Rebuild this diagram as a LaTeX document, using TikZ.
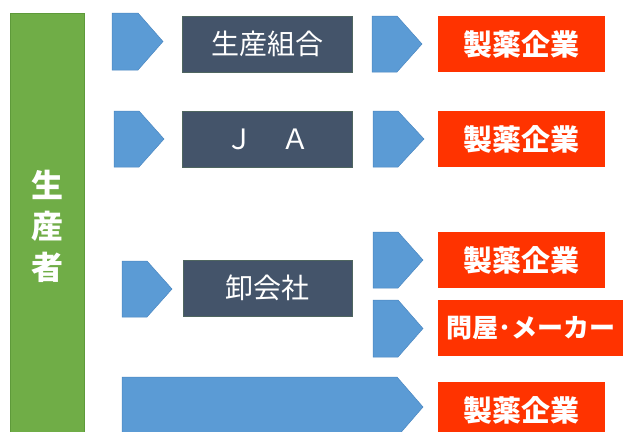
\documentclass[tikz,border=0pt]{standalone}
\usepackage{fontspec}
\newfontfamily\jp{Noto Sans CJK JP}
\definecolor{arrowblue}{HTML}{5B9BD5}
\definecolor{arrowedge}{HTML}{4A86C0}
\definecolor{slate}{HTML}{44546A}
\definecolor{slateedge}{HTML}{4F6660}
\definecolor{firm}{HTML}{FF3300}
\definecolor{grower}{HTML}{70AD47}
\definecolor{groweredge}{HTML}{5E9A3A}
\tikzset{
  chev/.style={fill=arrowblue,draw=arrowedge,line width=0.5pt},
  midbox/.style={fill=slate,draw=slateedge,line width=0.5pt},
  midtext/.style={text=white,font=\jp\fontsize{28}{32}\selectfont},
  redtext/.style={text=white,font=\jp\bfseries\fontsize{29}{33}\selectfont},
  growtext/.style={text=white,font=\jp\bfseries\fontsize{32}{36}\selectfont},
}
\newcommand{\homeplate}[5]{% x1 y1 x2 y2 xslant
  \path[chev] (#1,#2) -- (#5,#2) -- (#3,{(#2+#4)/2}) -- (#5,#4) -- (#1,#4) -- cycle;}
\begin{document}
\begin{tikzpicture}[x=1pt,y=-1pt]
\useasboundingbox (0,0) rectangle (623,431);
\clip (0,0) rectangle (623,431);
% producer bar
\path[fill=grower,draw=groweredge,line width=0.5pt] (10,13) rectangle (84,440);
\node[growtext] (p1) at (47,185) {生};
\node[growtext] (p2) at (47,226) {産};
\node[growtext] (p3) at (47,267) {者};
% row 1
\homeplate{112}{13}{163}{70}{138}
\path[midbox] (182,16) rectangle (352,72);
\node[midtext] (b1) at (267,44) {生産組合};
\homeplate{372}{16}{422}{72}{397}
\path[fill=firm] (438,16) rectangle (605,72);
\node[redtext] (r1) at (521.5,44) {製薬企業};
% row 2
\homeplate{114}{111}{164}{167}{139}
\path[midbox] (182,111) rectangle (352,167);
\node[midtext] (b2) at (267,139) {Ｊ　Ａ};
\homeplate{373}{111}{424}{167}{398}
\path[fill=firm] (438,111) rectangle (605,167);
\node[redtext] (r2) at (521.5,139) {製薬企業};
% row 3
\homeplate{122}{261}{172}{317}{147}
\path[midbox] (183,260) rectangle (352,316);
\node[midtext] (b3) at (267.5,288) {卸会社};
\homeplate{373}{232}{423}{288}{398}
\path[fill=firm] (438,232) rectangle (605,288);
\node[redtext] (r3) at (521.5,260) {製薬企業};
\homeplate{373}{300}{423}{357}{398}
\path[fill=firm] (438,300) rectangle (640,356);
\node[redtext,font=\jp\bfseries\fontsize{26}{30}\selectfont,anchor=west,inner sep=0pt] (r4) at (446,328) {問屋･メーカー};
% row 4
\homeplate{122}{377}{423}{437}{397}
\path[fill=firm] (438,382) rectangle (605,440);
\node[redtext] (r5) at (521.5,410) {製薬企業};
\end{tikzpicture}
\end{document}
